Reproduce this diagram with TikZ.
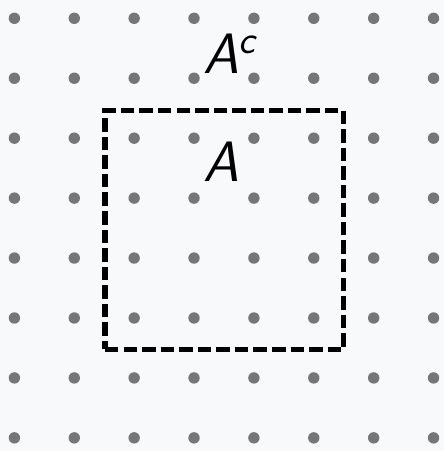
\documentclass[tikz,border=0pt]{standalone}
\usepackage{tikz}
\usetikzlibrary{positioning}
\definecolor{dotgray}{HTML}{767676}
\definecolor{paper}{HTML}{F8F9FA}
\begin{document}
\begin{tikzpicture}[
  dot/.style={circle, fill=dotgray, inner sep=0pt, minimum size=1.9mm},
  setbox/.style={draw, line width=2.8pt, dash pattern=on 6.4pt off 2.4pt,
    minimum width=3.975cm, minimum height=3.983cm},
  lbl/.style={font=\fontsize{27}{30}\selectfont\sffamily\itshape, inner sep=0pt, anchor=base west}]
\fill[paper] (0,0) rectangle (7.4,-7.517);
\useasboundingbox (0,0) rectangle (7.4,-7.517);
% grid of points
\foreach \i in {0,...,7}
  \foreach \j in {0,...,7}
    \node[dot] (d\i\j) at (0.24+\i*0.998, -0.305-\j*0.999) {};
% the set and its complement
\node[setbox] (setA) at (3.7375,-3.833) {};
\node[lbl] (compl) at (3.383,-1.217) {A\textsuperscript{c}};
\node[lbl] (inA) at (3.383,-3.033) {A};
\end{tikzpicture}
\end{document}
